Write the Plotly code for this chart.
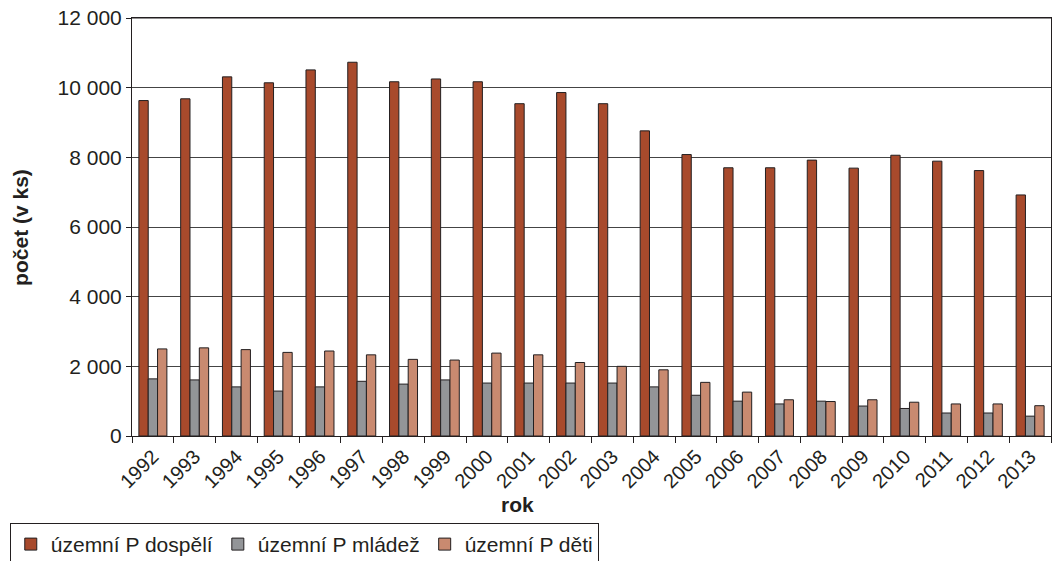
import plotly.graph_objects as go

years = [str(y) for y in range(1992, 2014)]
dospeli = [9630, 9680, 10310, 10140, 10510, 10730, 10170, 10250, 10170, 9540,
           9860, 9540, 8760, 8080, 7700, 7700, 7920, 7690, 8060, 7890, 7620, 6920]
mladez = [1640, 1610, 1410, 1290, 1410, 1570, 1490, 1610, 1520, 1520,
          1520, 1520, 1410, 1170, 1000, 920, 1000, 860, 790, 660, 660, 570]
deti = [2500, 2530, 2480, 2400, 2440, 2330, 2200, 2180, 2380, 2330,
        2110, 2000, 1900, 1540, 1260, 1040, 990, 1040, 970, 920, 920, 870]

series = [
    ("územní P dospělí", dospeli, "#A84A2C"),
    ("územní P mládež", mladez, "#939598"),
    ("územní P děti", deti, "#C98A70"),
]

FONT = "Liberation Sans, Arial, Helvetica, sans-serif"

fig = go.Figure()
for name, vals, col in series:
    fig.add_trace(go.Bar(
        x=years, y=vals, name=name,
        marker=dict(color=col, line=dict(color="#231F20", width=1)),
    ))

fig.update_layout(
    width=1054, height=561,
    margin=dict(l=132, r=3, t=18, b=125, autoexpand=False),
    paper_bgcolor="white", plot_bgcolor="white",
    barmode="group", bargap=0.33, bargroupgap=0,
    separators=", ",
    font=dict(family=FONT, size=20, color="#231F20"),
    showlegend=True,
    legend=dict(
        orientation="h", x=-0.133, y=-0.208, xanchor="left", yanchor="top",
        bordercolor="#231F20", borderwidth=1, font=dict(size=21),
        traceorder="normal",
    ),
    xaxis=dict(
        type="category", tickson="boundaries", ticks="outside", ticklen=6,
        tickcolor="#231F20", tickangle=-45, tickfont=dict(size=20),
        showline=True, linecolor="#231F20", linewidth=1, mirror=True,
        showgrid=False, automargin=False, ticklabeloverflow="allow",
    ),
    yaxis=dict(
        range=[0, 12000], tickvals=[0, 2000, 4000, 6000, 8000, 10000, 12000],
        tickformat=",d", ticks="outside", ticklen=5, tickcolor="#231F20",
        tickfont=dict(size=21),
        showline=True, linecolor="#231F20", linewidth=1, mirror=True,
        showgrid=True, gridcolor="#444444", gridwidth=1, zeroline=False,
        automargin=False, ticklabeloverflow="allow",
    ),
    shapes=[
        dict(type="line", xref="paper", yref="paper", x0=0, x1=1, y0=1, y1=1,
             line=dict(color="#231F20", width=1), layer="above"),
    ],
    annotations=[
        dict(text="<b>rok</b>", xref="paper", yref="paper", x=0.42, y=-0.165,
             showarrow=False, font=dict(size=21), xanchor="center", yanchor="middle"),
        dict(text="<b>počet (v ks)</b>", xref="paper", yref="paper", x=-0.122, y=0.5,
             showarrow=False, textangle=-90, font=dict(size=21),
             xanchor="center", yanchor="middle"),
    ],
)

fig.write_html(
    "out.html",
    config={"displayModeBar": False},
    post_script="document.body.style.margin='0';document.body.style.overflow='hidden';",
)
